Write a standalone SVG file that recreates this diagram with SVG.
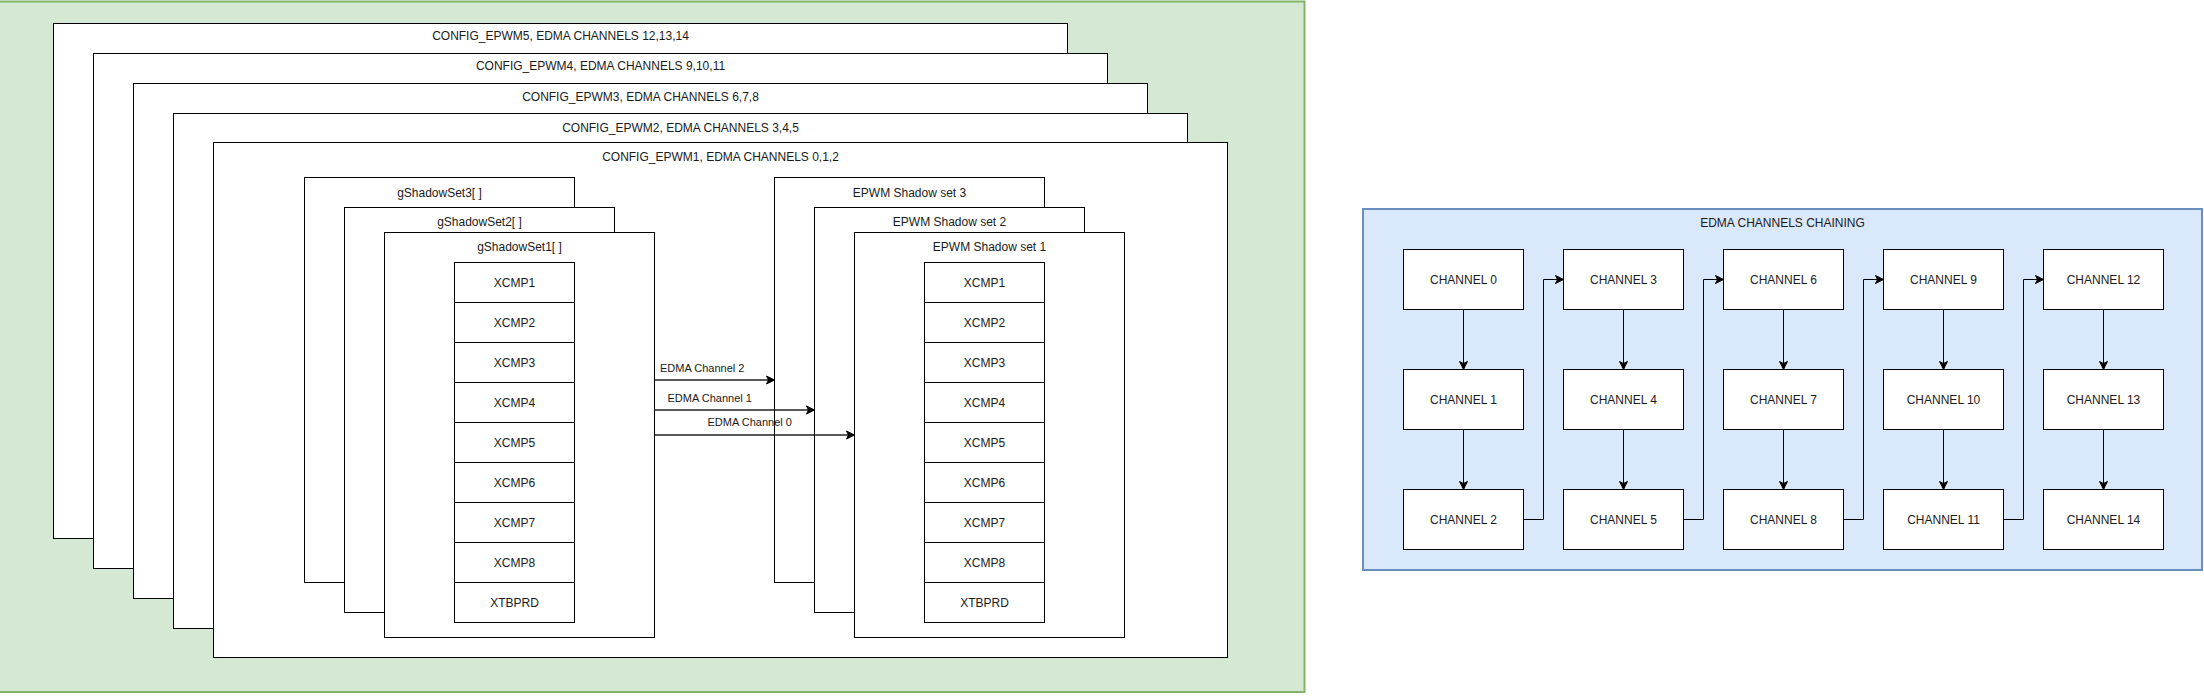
<svg xmlns="http://www.w3.org/2000/svg" width="2204" height="697" viewBox="0 0 2204 697">
<style>
.box{fill:#ffffff;stroke:#000000;stroke-width:1}
.t{font-family:"Liberation Sans",Arial,Helvetica,sans-serif;font-size:12px;fill:#1a1a1a;text-anchor:middle;dominant-baseline:central}
.lbl{font-family:"Liberation Sans",Arial,Helvetica,sans-serif;font-size:11px;fill:#1a1a1a;dominant-baseline:central}
.edge{fill:none;stroke:#000000;stroke-width:1}
.edma{fill:none;stroke:#222222;stroke-width:1.3}
</style>
<defs>
<marker id="arr" markerUnits="userSpaceOnUse" markerWidth="12" markerHeight="12" viewBox="-1 -6 12 12" refX="8" refY="0" orient="auto">
<path d="M0,-4 L8,0 L0,4 L2,0 Z" fill="#000000" stroke="#000000" stroke-width="1"/>
</marker>
</defs>
<g id="bg-green">
<rect x="-10" y="1.5" width="1314.5" height="690.5" fill="#d5e8d4" stroke="#82b366" stroke-width="2"/>
</g>
<g id="config-epwm5"><rect class="box" x="53.5" y="23.5" width="1014" height="515"/><text class="t" x="560.5" y="36">CONFIG_EPWM5, EDMA CHANNELS 12,13,14</text></g>
<g id="config-epwm4"><rect class="box" x="93.5" y="53.5" width="1014" height="515"/><text class="t" x="600.5" y="66">CONFIG_EPWM4, EDMA CHANNELS 9,10,11</text></g>
<g id="config-epwm3"><rect class="box" x="133.5" y="83.5" width="1014" height="515"/><text class="t" x="640.5" y="97">CONFIG_EPWM3, EDMA CHANNELS 6,7,8</text></g>
<g id="config-epwm2"><rect class="box" x="173.5" y="113.5" width="1014" height="515"/><text class="t" x="680.5" y="128">CONFIG_EPWM2, EDMA CHANNELS 3,4,5</text></g>
<g id="config-epwm1"><rect class="box" x="213.5" y="142.5" width="1014" height="515"/><text class="t" x="720.5" y="157">CONFIG_EPWM1, EDMA CHANNELS 0,1,2</text></g>
<g id="gshadowset3"><rect class="box" x="304.5" y="177.5" width="270" height="405"/><text class="t" x="439.5" y="193">gShadowSet3[ ]</text></g>
<g id="gshadowset2"><rect class="box" x="344.5" y="207.5" width="270" height="405"/><text class="t" x="479.5" y="222">gShadowSet2[ ]</text></g>
<g id="gshadowset1"><rect class="box" x="384.5" y="232.5" width="270" height="405"/><text class="t" x="519.5" y="247">gShadowSet1[ ]</text></g>
<g id="gshadow-regs">
<rect class="box" x="454.5" y="262.5" width="120" height="40"/><text class="t" x="514.5" y="282.5">XCMP1</text>
<rect class="box" x="454.5" y="302.5" width="120" height="40"/><text class="t" x="514.5" y="322.5">XCMP2</text>
<rect class="box" x="454.5" y="342.5" width="120" height="40"/><text class="t" x="514.5" y="362.5">XCMP3</text>
<rect class="box" x="454.5" y="382.5" width="120" height="40"/><text class="t" x="514.5" y="402.5">XCMP4</text>
<rect class="box" x="454.5" y="422.5" width="120" height="40"/><text class="t" x="514.5" y="442.5">XCMP5</text>
<rect class="box" x="454.5" y="462.5" width="120" height="40"/><text class="t" x="514.5" y="482.5">XCMP6</text>
<rect class="box" x="454.5" y="502.5" width="120" height="40"/><text class="t" x="514.5" y="522.5">XCMP7</text>
<rect class="box" x="454.5" y="542.5" width="120" height="40"/><text class="t" x="514.5" y="562.5">XCMP8</text>
<rect class="box" x="454.5" y="582.5" width="120" height="40"/><text class="t" x="514.5" y="602.5">XTBPRD</text>
</g>
<g id="epwm-shadow3"><rect class="box" x="774.5" y="177.5" width="270" height="405"/><text class="t" x="909.5" y="193">EPWM Shadow set 3</text></g>
<g id="epwm-shadow2"><rect class="box" x="814.5" y="207.5" width="270" height="405"/><text class="t" x="949.5" y="222">EPWM Shadow set 2</text></g>
<g id="epwm-shadow1"><rect class="box" x="854.5" y="232.5" width="270" height="405"/><text class="t" x="989.5" y="247">EPWM Shadow set 1</text></g>
<g id="epwm-regs">
<rect class="box" x="924.5" y="262.5" width="120" height="40"/><text class="t" x="984.5" y="282.5">XCMP1</text>
<rect class="box" x="924.5" y="302.5" width="120" height="40"/><text class="t" x="984.5" y="322.5">XCMP2</text>
<rect class="box" x="924.5" y="342.5" width="120" height="40"/><text class="t" x="984.5" y="362.5">XCMP3</text>
<rect class="box" x="924.5" y="382.5" width="120" height="40"/><text class="t" x="984.5" y="402.5">XCMP4</text>
<rect class="box" x="924.5" y="422.5" width="120" height="40"/><text class="t" x="984.5" y="442.5">XCMP5</text>
<rect class="box" x="924.5" y="462.5" width="120" height="40"/><text class="t" x="984.5" y="482.5">XCMP6</text>
<rect class="box" x="924.5" y="502.5" width="120" height="40"/><text class="t" x="984.5" y="522.5">XCMP7</text>
<rect class="box" x="924.5" y="542.5" width="120" height="40"/><text class="t" x="984.5" y="562.5">XCMP8</text>
<rect class="box" x="924.5" y="582.5" width="120" height="40"/><text class="t" x="984.5" y="602.5">XTBPRD</text>
</g>
<g id="bg-blue">
<rect x="1363" y="209" width="839" height="361" fill="#dae8fc" stroke="#6c8ebf" stroke-width="2"/>
<text class="t" x="1782.5" y="223">EDMA CHANNELS CHAINING</text>
</g>
<g id="ch0"><rect class="box" x="1403.5" y="249.5" width="120" height="60"/><text class="t" x="1463.5" y="279.5">CHANNEL 0</text></g>
<g id="ch1"><rect class="box" x="1403.5" y="369.5" width="120" height="60"/><text class="t" x="1463.5" y="399.5">CHANNEL 1</text></g>
<g id="ch2"><rect class="box" x="1403.5" y="489.5" width="120" height="60"/><text class="t" x="1463.5" y="519.5">CHANNEL 2</text></g>
<g id="ch3"><rect class="box" x="1563.5" y="249.5" width="120" height="60"/><text class="t" x="1623.5" y="279.5">CHANNEL 3</text></g>
<g id="ch4"><rect class="box" x="1563.5" y="369.5" width="120" height="60"/><text class="t" x="1623.5" y="399.5">CHANNEL 4</text></g>
<g id="ch5"><rect class="box" x="1563.5" y="489.5" width="120" height="60"/><text class="t" x="1623.5" y="519.5">CHANNEL 5</text></g>
<g id="ch6"><rect class="box" x="1723.5" y="249.5" width="120" height="60"/><text class="t" x="1783.5" y="279.5">CHANNEL 6</text></g>
<g id="ch7"><rect class="box" x="1723.5" y="369.5" width="120" height="60"/><text class="t" x="1783.5" y="399.5">CHANNEL 7</text></g>
<g id="ch8"><rect class="box" x="1723.5" y="489.5" width="120" height="60"/><text class="t" x="1783.5" y="519.5">CHANNEL 8</text></g>
<g id="ch9"><rect class="box" x="1883.5" y="249.5" width="120" height="60"/><text class="t" x="1943.5" y="279.5">CHANNEL 9</text></g>
<g id="ch10"><rect class="box" x="1883.5" y="369.5" width="120" height="60"/><text class="t" x="1943.5" y="399.5">CHANNEL 10</text></g>
<g id="ch11"><rect class="box" x="1883.5" y="489.5" width="120" height="60"/><text class="t" x="1943.5" y="519.5">CHANNEL 11</text></g>
<g id="ch12"><rect class="box" x="2043.5" y="249.5" width="120" height="60"/><text class="t" x="2103.5" y="279.5">CHANNEL 12</text></g>
<g id="ch13"><rect class="box" x="2043.5" y="369.5" width="120" height="60"/><text class="t" x="2103.5" y="399.5">CHANNEL 13</text></g>
<g id="ch14"><rect class="box" x="2043.5" y="489.5" width="120" height="60"/><text class="t" x="2103.5" y="519.5">CHANNEL 14</text></g>
<g id="connectors">
<path class="edma" d="M654.5,380 L774.5,380" marker-end="url(#arr)"/>
<text class="lbl" x="660" y="368">EDMA Channel 2</text>
<path class="edma" d="M654.5,410 L814.5,410" marker-end="url(#arr)"/>
<text class="lbl" x="667.5" y="398">EDMA Channel 1</text>
<path class="edma" d="M654.5,435 L854.5,435" marker-end="url(#arr)"/>
<text class="lbl" x="707.5" y="422">EDMA Channel 0</text>
<path class="edge" d="M1463.5,309.5 L1463.5,369.5" marker-end="url(#arr)"/>
<path class="edge" d="M1463.5,429.5 L1463.5,489.5" marker-end="url(#arr)"/>
<path class="edge" d="M1623.5,309.5 L1623.5,369.5" marker-end="url(#arr)"/>
<path class="edge" d="M1623.5,429.5 L1623.5,489.5" marker-end="url(#arr)"/>
<path class="edge" d="M1783.5,309.5 L1783.5,369.5" marker-end="url(#arr)"/>
<path class="edge" d="M1783.5,429.5 L1783.5,489.5" marker-end="url(#arr)"/>
<path class="edge" d="M1943.5,309.5 L1943.5,369.5" marker-end="url(#arr)"/>
<path class="edge" d="M1943.5,429.5 L1943.5,489.5" marker-end="url(#arr)"/>
<path class="edge" d="M2103.5,309.5 L2103.5,369.5" marker-end="url(#arr)"/>
<path class="edge" d="M2103.5,429.5 L2103.5,489.5" marker-end="url(#arr)"/>
<path class="edge" d="M1523.5,519.5 L1543.5,519.5 L1543.5,279.5 L1563.5,279.5" marker-end="url(#arr)"/>
<path class="edge" d="M1683.5,519.5 L1703.5,519.5 L1703.5,279.5 L1723.5,279.5" marker-end="url(#arr)"/>
<path class="edge" d="M1843.5,519.5 L1863.5,519.5 L1863.5,279.5 L1883.5,279.5" marker-end="url(#arr)"/>
<path class="edge" d="M2003.5,519.5 L2023.5,519.5 L2023.5,279.5 L2043.5,279.5" marker-end="url(#arr)"/>
</g>
</svg>
